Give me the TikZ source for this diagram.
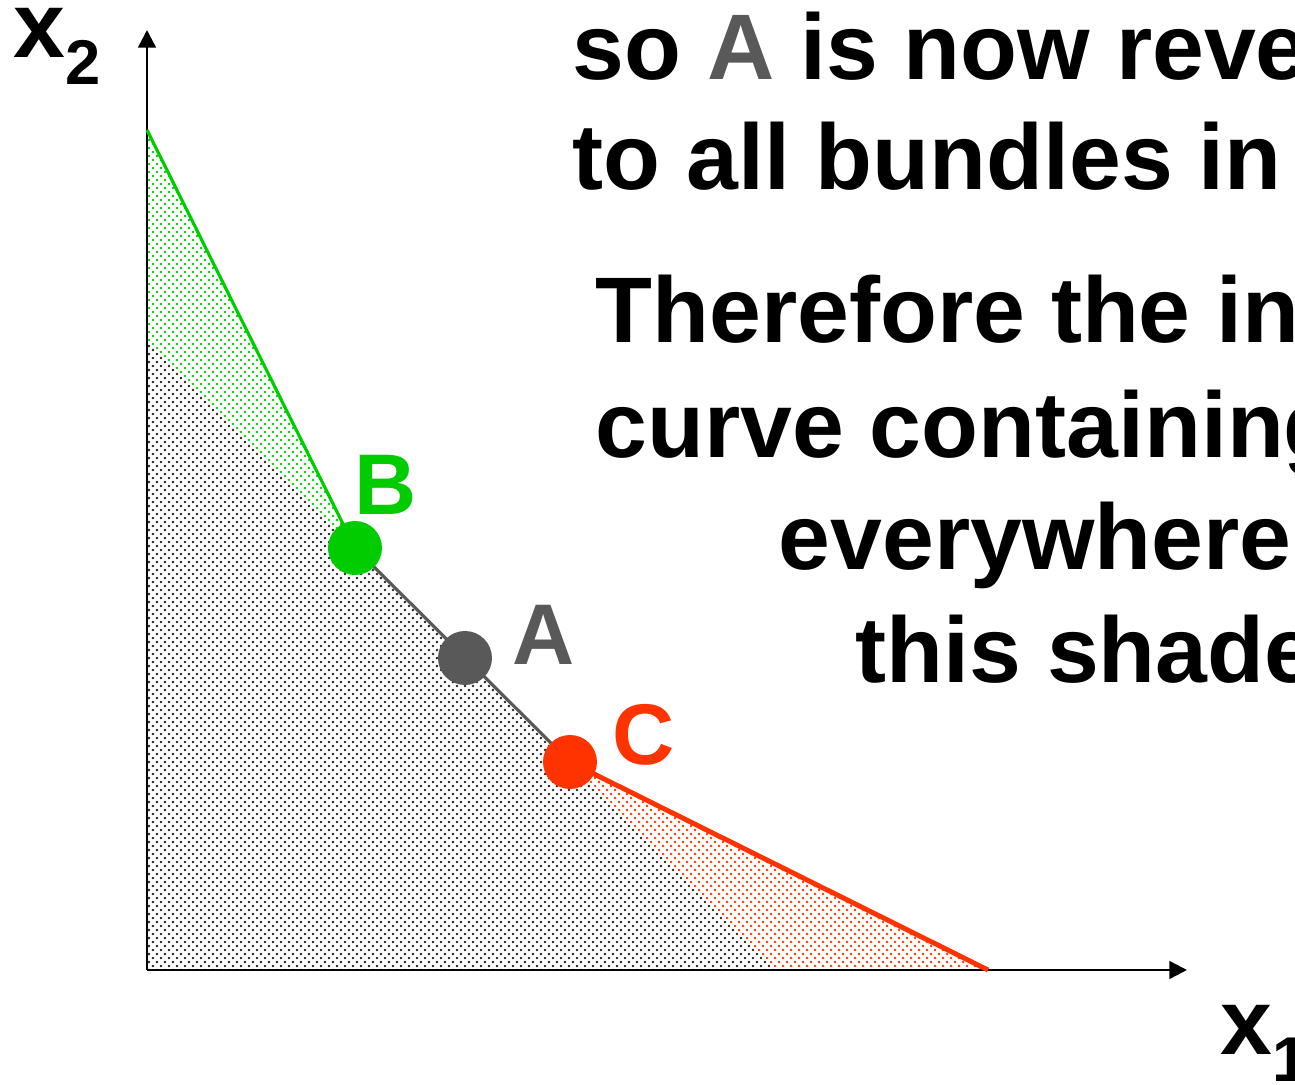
\documentclass[tikz,border=0pt]{standalone}
\usepackage{fontspec}
\setmainfont{Liberation Sans}
\usetikzlibrary{arrows.meta, patterns.meta}
\definecolor{bundleGreen}{RGB}{0,204,0}
\definecolor{bundleRed}{RGB}{255,51,0}
\definecolor{bundleGray}{RGB}{89,89,89}
\tikzdeclarepattern{
  name=fine dots, type=uncolored,
  bounding box={(0,0) and (2.4pt,2.4pt)},
  tile size={(2.4pt,2.4pt)},
  code={
    \fill (0.6pt,0.6pt) circle (0.42pt);
    \fill (1.8pt,1.8pt) circle (0.42pt);
  }
}
\tikzset{
  axis line/.style={line width=0.7pt, black, -{Triangle[length=5pt,width=5pt]}},
  budget line/.style={line width=0.9pt, #1},
  shaded set/.style={pattern=fine dots, pattern color=#1},
  bundle dot/.style={circle, fill=#1, minimum size=0.54cm, inner sep=0pt},
  point label/.style={font=\fontsize{24.5}{29}\selectfont\bfseries, anchor=base west, inner sep=0pt},
  big text/.style={font=\fontsize{26.5}{32}\selectfont\bfseries, anchor=base west, inner sep=0pt},
}
\newcommand{\axisname}[1]{x\raisebox{-0.27cm}{\fontsize{18}{18}\selectfont #1}}

\begin{document}
\begin{tikzpicture}
  \useasboundingbox (-1.47,-1.15) rectangle (11.48,9.70);
  \clip (-1.47,-1.15) rectangle (11.48,9.70);
  \coordinate (O) at (0,0);
  \coordinate (yend) at (0,9.40);
  \coordinate (xend) at (10.40,0);
  \coordinate (gtop) at (0,8.40);
  \coordinate (mtop) at (0,6.30);
  \coordinate (mend) at (6.30,0);
  \coordinate (rend) at (8.41,0);
  \coordinate (ptB) at (2.08,4.22);
  \coordinate (ptA) at (3.18,3.12);
  \coordinate (ptC) at (4.23,2.08);

  % shaded sets
  \fill[shaded set=black!85] (mtop) -- (O) -- (mend) -- cycle;
  \fill[shaded set=bundleGreen] (gtop) -- (ptB) -- (mtop) -- cycle;
  \fill[shaded set=bundleRed] (ptC) -- (rend) -- (mend) -- cycle;

  \draw[axis line] (O) -- (yend);
  \draw[axis line] (O) -- (xend);

  \draw[budget line=bundleGreen] (gtop) -- (ptB);
  \draw[budget line=bundleGray] (ptB) -- (ptC);
  \draw[budget line=bundleRed, line width=1.4pt] (ptC) -- (rend);

  \node[bundle dot=bundleGreen] (B) at (ptB) {};
  \node[bundle dot=bundleGray] (A) at (ptA) {};
  \node[bundle dot=bundleRed] (C) at (ptC) {};
  \node[point label, text=bundleGreen] (labB) at (2.07,4.55) {B};
  \node[point label, text=bundleGray] (labA) at (3.65,3.05) {A};
  \node[point label, text=bundleRed] (labC) at (4.65,2.05) {C};

  \node[big text] (labX2) at (-1.34,9.12) {\axisname{2}};
  \node[big text] (labX1) at (10.73,-0.85) {\axisname{1}};

  \node[big text] (line1) at (4.25,8.90) {so \textcolor{bundleGray}{A} is now reve};
  \node[big text] (line2) at (4.25,7.80) {to all bundles in};
  \node[big text] (line3) at (4.48,6.27) {Therefore the in};
  \node[big text] (line4) at (4.48,5.12) {curve containing};
  \node[big text] (line5) at (6.31,4.00) {everywhere};
  \node[big text] (line6) at (7.08,2.87) {this shade};
\end{tikzpicture}
\end{document}
